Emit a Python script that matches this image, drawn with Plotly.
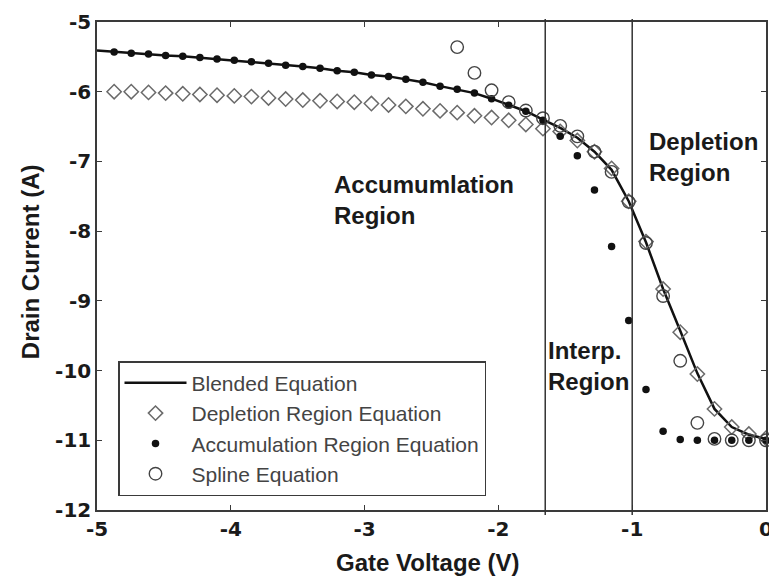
import plotly.graph_objects as go

# Gate voltage sweep (V)
gate_voltage = [-5.0, -4.872, -4.744, -4.615, -4.487, -4.359, -4.231, -4.103, -3.974, -3.846,
                -3.718, -3.590, -3.462, -3.333, -3.205, -3.077, -2.949, -2.821, -2.692, -2.564,
                -2.436, -2.308, -2.179, -2.051, -1.923, -1.795, -1.667, -1.538, -1.410, -1.282,
                -1.154, -1.026, -0.897, -0.769, -0.641, -0.513, -0.385, -0.256, -0.128, 0.0]

# log10 drain current (A) for each model
blended = [-5.41, -5.43, -5.45, -5.46, -5.48, -5.49, -5.51, -5.53, -5.55, -5.57,
           -5.59, -5.62, -5.64, -5.665, -5.70, -5.72, -5.76, -5.78, -5.82, -5.865,
           -5.92, -5.966, -6.02, -6.10, -6.195, -6.28, -6.40, -6.52, -6.66, -6.86,
           -7.12, -7.57, -8.16, -8.83, -9.43, -10.04, -10.55, -10.81, -10.92, -10.98]

depletion = [-6.00, -6.00, -6.01, -6.02, -6.03, -6.04, -6.05, -6.06, -6.07, -6.09,
             -6.105, -6.12, -6.13, -6.14, -6.15, -6.17, -6.19, -6.21, -6.245, -6.275,
             -6.30, -6.345, -6.37, -6.41, -6.47, -6.53, -6.57, -6.70, -6.86, -7.10,
             -7.57, -8.15, -8.83, -9.45, -10.05, -10.55, -10.81, -10.91, -10.97]

accumulation = [-5.43, -5.45, -5.46, -5.48, -5.49, -5.51, -5.53, -5.55, -5.57, -5.59,
                -5.62, -5.64, -5.665, -5.70, -5.72, -5.76, -5.78, -5.82, -5.865, -5.92,
                -5.966, -6.02, -6.10, -6.195, -6.28, -6.41, -6.64, -6.92, -7.41, -8.22,
                -9.28, -10.27, -10.87, -10.99, -11.0, -11.0, -11.0, -11.0, -11.0]

spline = [-5.36, -5.73, -5.98, -6.15, -6.27, -6.38, -6.49, -6.64, -6.86, -7.15,
          -7.58, -8.17, -8.93, -9.86, -10.75, -10.98, -11.0, -11.0, -11.0]

# region boundaries (V)
boundaries = [-1.65, -1.0]

x_ticks = [-5, -4, -3, -2, -1, 0]
y_ticks = [-12, -11, -10, -9, -8, -7, -6, -5]

BIG = dict(family="Liberation Sans, Arial", size=24, color="#1a1a1a")
TICK = dict(family="DejaVu Sans", size=20, color="#1a1a1a")
AXC = "#3a3a3a"

fig = go.Figure()

fig.add_trace(go.Scatter(
    x=gate_voltage, y=blended, mode="lines", name="Blended Equation",
    line=dict(color="#111111", width=2.5)))

fig.add_trace(go.Scatter(
    x=gate_voltage[1:], y=depletion, mode="markers", name="Depletion Region Equation",
    marker=dict(symbol="diamond-open", size=11, color="#6a6a6a", line=dict(width=1.5)),
    cliponaxis=False))

fig.add_trace(go.Scatter(
    x=gate_voltage[1:], y=accumulation, mode="markers", name="Accumulation Region Equation",
    marker=dict(symbol="circle", size=7.5, color="#111111"),
    cliponaxis=False))

fig.add_trace(go.Scatter(
    x=gate_voltage[len(gate_voltage) - len(spline):], y=spline, mode="markers",
    name="Spline Equation",
    marker=dict(symbol="circle-open", size=12.5, color="#444444", line=dict(width=1.4)),
    cliponaxis=False))

for b in boundaries:
    fig.add_shape(type="line", xref="x", yref="paper", x0=b, x1=b, y0=-0.01, y1=1.006,
                  line=dict(color="#333333", width=1.5), layer="above")

annos = [
    dict(x=-3.244, y=-7.55, text="<b>Accumumlation<br>Region</b>"),
    dict(x=-0.889, y=-6.94, text="<b>Depletion<br>Region</b>"),
    dict(x=-1.645, y=-9.93, text="<b>Interp.<br>Region</b>"),
]
for a in annos:
    fig.add_annotation(x=a["x"], y=a["y"], xref="x", yref="y", text=a["text"],
                       showarrow=False, xanchor="left", yanchor="middle", align="left",
                       font=BIG)

fig.add_annotation(x=0.4948, y=-0.107, xref="paper", yref="paper",
                   text="<b>Gate Voltage (V)</b>", showarrow=False,
                   xanchor="center", yanchor="middle", font=BIG)
fig.add_annotation(x=-0.1, y=0.508, xref="paper", yref="paper",
                   text="<b>Drain Current (A)</b>", showarrow=False, textangle=-90,
                   xanchor="center", yanchor="middle", font=BIG)

fig.update_layout(
    width=769, height=579,
    margin=dict(l=97, r=3, t=22, b=69),
    paper_bgcolor="white", plot_bgcolor="white",
    showlegend=True,
    legend=dict(
        x=0.0314, y=0.305, xanchor="left", yanchor="top",
        bgcolor="white", bordercolor=AXC, borderwidth=1.5,
        font=dict(family="Liberation Sans, Arial", size=21, color="#444444"),
        itemwidth=62, tracegroupgap=0,
        entrywidth=310, entrywidthmode="pixels",
    ),
)

fig.update_xaxes(
    range=[-5, 0], tickmode="array", tickvals=x_ticks,
    ticktext=[f"<b>{t}</b>" for t in x_ticks],
    showgrid=False, zeroline=False, showline=True, linecolor=AXC, linewidth=1.5,
    mirror="ticks", ticks="inside", ticklen=5, tickcolor=AXC, tickwidth=1.2,
    tickfont=TICK, automargin=False, ticklabeloverflow="allow")

fig.update_yaxes(
    range=[-12, -5], tickmode="array", tickvals=y_ticks,
    ticktext=[f"<b>{t}</b>" for t in y_ticks],
    showgrid=False, zeroline=False, showline=True, linecolor=AXC, linewidth=1.5,
    mirror="ticks", ticks="inside", ticklen=5, tickcolor=AXC, tickwidth=1.2,
    tickfont=TICK, automargin=False, ticklabeloverflow="allow")

fig.write_html("out.html")
